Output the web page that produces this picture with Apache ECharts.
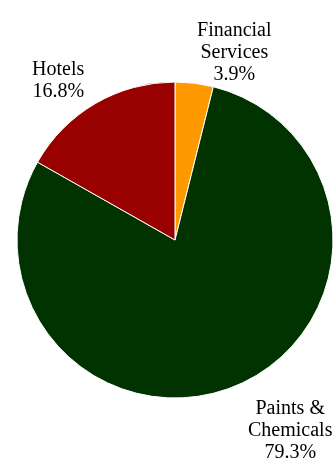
<!DOCTYPE html>
<html>
<head>
<meta charset="utf-8">
<script src="https://cdn.jsdelivr.net/npm/echarts@6/dist/echarts.min.js"></script>
<style>html,body{margin:0;padding:0;background:#fff}#c{width:334px;height:460px}</style>
</head>
<body>
<div id="c"></div>
<script>
var categories = ['Financial\nServices', 'Paints &\nChemicals', 'Hotels'];
var values = [3.9, 79.3, 16.8];
var colors = ['#FF9900', '#003300', '#990000'];
var labelGaps = [31, 50, 26];
var labelShiftX = [-6, -14, 7];

var total = values.reduce(function (a, b) { return a + b; }, 0);
var chart = echarts.init(document.getElementById('c'), null, { renderer: 'canvas' });
chart.setOption({
  animation: false,
  backgroundColor: '#ffffff',
  series: [{
    type: 'pie',
    center: [175, 240],
    radius: [0, 158],
    startAngle: 90,
    clockwise: true,
    avoidLabelOverlap: false,
    itemStyle: { borderColor: '#ffffff', borderWidth: 1 },
    label: {
      show: true,
      position: 'outside',
      color: '#000',
      fontFamily: 'Liberation Serif',
      fontSize: 20,
      lineHeight: 22,
      formatter: function (p) {
        var pct = (p.value / total * 100).toFixed(1) + '%';
        return (p.name + '\n' + pct).split('\n').map(function (s) { return '{c|' + s + '}'; }).join('\n');
      },
      rich: { c: { align: 'center', fontFamily: 'Liberation Serif', fontSize: 20, lineHeight: 22, color: '#000' } }
    },
    labelLine: { show: false, length: 30, length2: 0 },
    labelLayout: function (p) { return { dx: labelShiftX[p.dataIndex] }; },
    emphasis: { disabled: true },
    data: categories.map(function (c, i) {
      return {
        name: c,
        value: values[i],
        itemStyle: { color: colors[i] },
        labelLine: { show: false, length: labelGaps[i], length2: 0 }
      };
    })
  }]
});
</script>
</body>
</html>
